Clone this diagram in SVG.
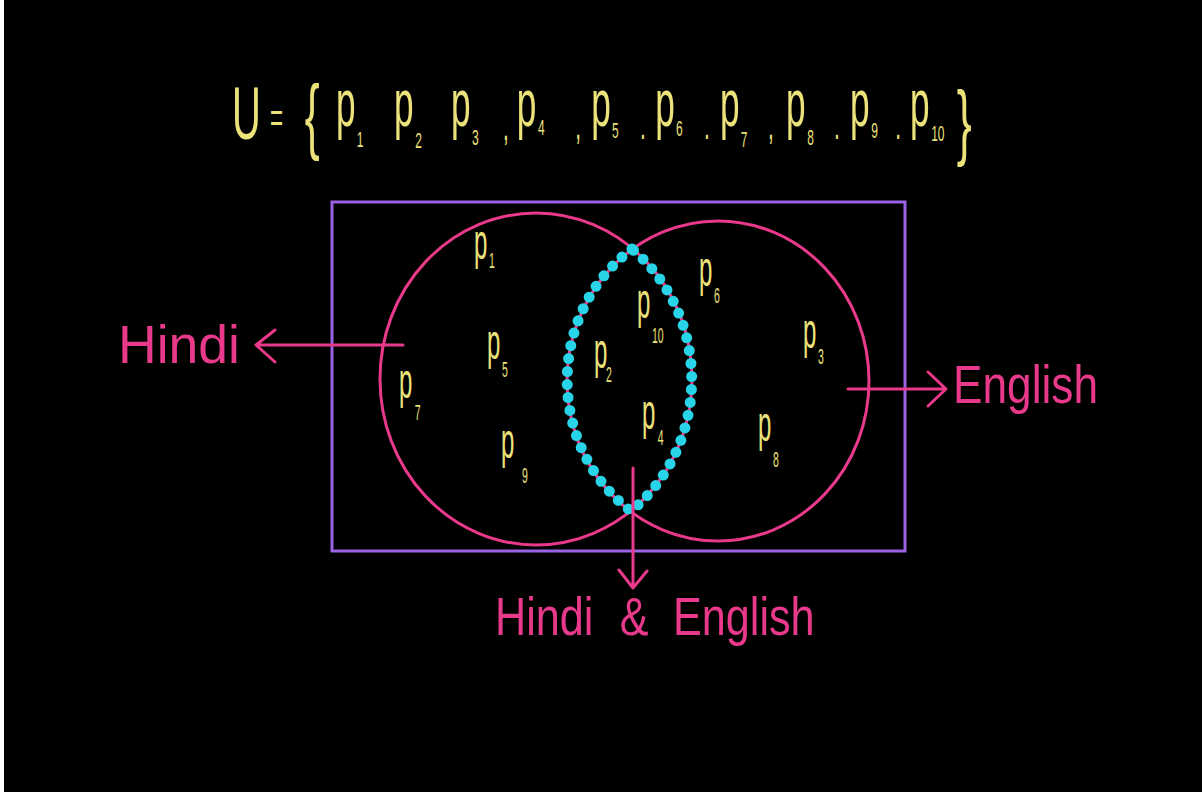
<svg xmlns="http://www.w3.org/2000/svg" width="1202" height="792" viewBox="0 0 1202 792">
  <style>
    .y { fill: #ece27a; font-family: "Liberation Sans", Arial, sans-serif; }
    .pk { fill: #e8398a; font-family: "Liberation Sans", Arial, sans-serif; font-size: 54px; }
    .ln { fill: none; stroke: #e8398a; stroke-width: 3; stroke-linecap: round; stroke-linejoin: round; }
    .sub { font-size: 14px; }
    .ip { font-size: 32px; }
  </style>
  <rect x="0" y="0" width="1202" height="792" fill="#000"/>
  <rect x="0" y="0" width="4" height="792" fill="#fff"/>

  <g id="universe-set">
    <text class="y" transform="scale(0.8,1.5)" font-size="44"><tspan x="290" y="92.7" font-size="50">U</tspan><tspan x="337.5" y="88" font-size="28">=</tspan><tspan x="381" y="96" font-size="56">{</tspan><tspan x="420" y="84">p</tspan><tspan x="446" y="98" font-size="15">1</tspan><tspan x="492.5" y="84">p</tspan><tspan x="519" y="98.7" font-size="15">2</tspan><tspan x="563.8" y="84">p</tspan><tspan x="590" y="96.7" font-size="15">3</tspan><tspan x="628.8" y="93.3" font-size="26">,</tspan><tspan x="646" y="84">p</tspan><tspan x="672.5" y="90" font-size="15">4</tspan><tspan x="719" y="93" font-size="26">,</tspan><tspan x="739" y="84">p</tspan><tspan x="765" y="92" font-size="15">5</tspan><tspan x="800" y="93" font-size="26">.</tspan><tspan x="819" y="84">p</tspan><tspan x="845" y="91" font-size="15">6</tspan><tspan x="880" y="93" font-size="26">.</tspan><tspan x="900" y="84">p</tspan><tspan x="926" y="98" font-size="15">7</tspan><tspan x="960" y="93" font-size="26">,</tspan><tspan x="982.5" y="84">p</tspan><tspan x="1009" y="96.7" font-size="15">8</tspan><tspan x="1042.5" y="93" font-size="26">.</tspan><tspan x="1062.5" y="84">p</tspan><tspan x="1089" y="92" font-size="15">9</tspan><tspan x="1119" y="93" font-size="26">.</tspan><tspan x="1137.5" y="84">p</tspan><tspan x="1164" y="94" font-size="15">10</tspan><tspan x="1196" y="100" font-size="56">}</tspan></text>
  </g>

  <g id="universe-box">
    <rect x="332" y="202" width="573" height="349" fill="none" stroke="#9a63e6" stroke-width="3"/>
  </g>

  <g id="hindi-set">
    <ellipse cx="536" cy="379" rx="156" ry="166" class="ln"/>
  </g>
  <g id="english-set">
    <ellipse cx="718" cy="381" rx="151" ry="160" class="ln"/>
  </g>

  <g id="intersection">
    <path d="M632,249 A151,160 0 0 0 631,511 A156,166 0 0 0 632,249 Z" fill="none" stroke="#27d4e8" stroke-width="11" stroke-linecap="round" stroke-dasharray="0 13"/>
  </g>

  <g id="elements" class="y">
    <text class="y ip" transform="translate(474,259) scale(0.75,1.55)">p<tspan class="sub" x="20" y="5.8">1</tspan></text>
    <text class="y ip" transform="translate(487,359) scale(0.75,1.55)">p<tspan class="sub" x="20" y="11.6">5</tspan></text>
    <text class="y ip" transform="translate(399,398) scale(0.75,1.55)">p<tspan class="sub" x="21" y="14">7</tspan></text>
    <text class="y ip" transform="translate(501,458) scale(0.75,1.55)">p<tspan class="sub" x="28" y="16">9</tspan></text>
    <text class="y ip" transform="translate(594,368) scale(0.75,1.55)">p<tspan class="sub" x="16" y="9">2</tspan></text>
    <text class="y ip" transform="translate(637,318) scale(0.75,1.55)">p<tspan class="sub" x="20" y="16">10</tspan></text>
    <text class="y ip" transform="translate(642,429) scale(0.75,1.55)">p<tspan class="sub" x="21" y="10">4</tspan></text>
    <text class="y ip" transform="translate(699,286) scale(0.75,1.55)">p<tspan class="sub" x="20" y="11">6</tspan></text>
    <text class="y ip" transform="translate(803,348) scale(0.75,1.55)">p<tspan class="sub" x="20" y="10">3</tspan></text>
    <text class="y ip" transform="translate(758,441) scale(0.75,1.55)">p<tspan class="sub" x="20" y="17">8</tspan></text>
  </g>

  <g id="connectors">
    <path class="ln" d="M403,345 H256 M275,330 L256,345 L275,362"/>
    <path class="ln" d="M848,389 H946 M928,372 L946,389 L928,406"/>
    <path class="ln" d="M633,468 V588 M619,570 L633,588 L647,571"/>
  </g>

  <g id="label-hindi">
    <text class="pk" x="118" y="363" textLength="122" lengthAdjust="spacingAndGlyphs">Hindi</text>
  </g>
  <g id="label-english">
    <text class="pk" x="953" y="403" textLength="145" lengthAdjust="spacingAndGlyphs">English</text>
  </g>
  <g id="label-both">
    <text class="pk" font-size="52" transform="translate(495,635) scale(0.8,1)"><tspan x="0" y="0">Hindi</tspan> <tspan x="156" y="0">&amp;</tspan> <tspan x="222.5" y="0">English</tspan></text>
  </g>
</svg>
